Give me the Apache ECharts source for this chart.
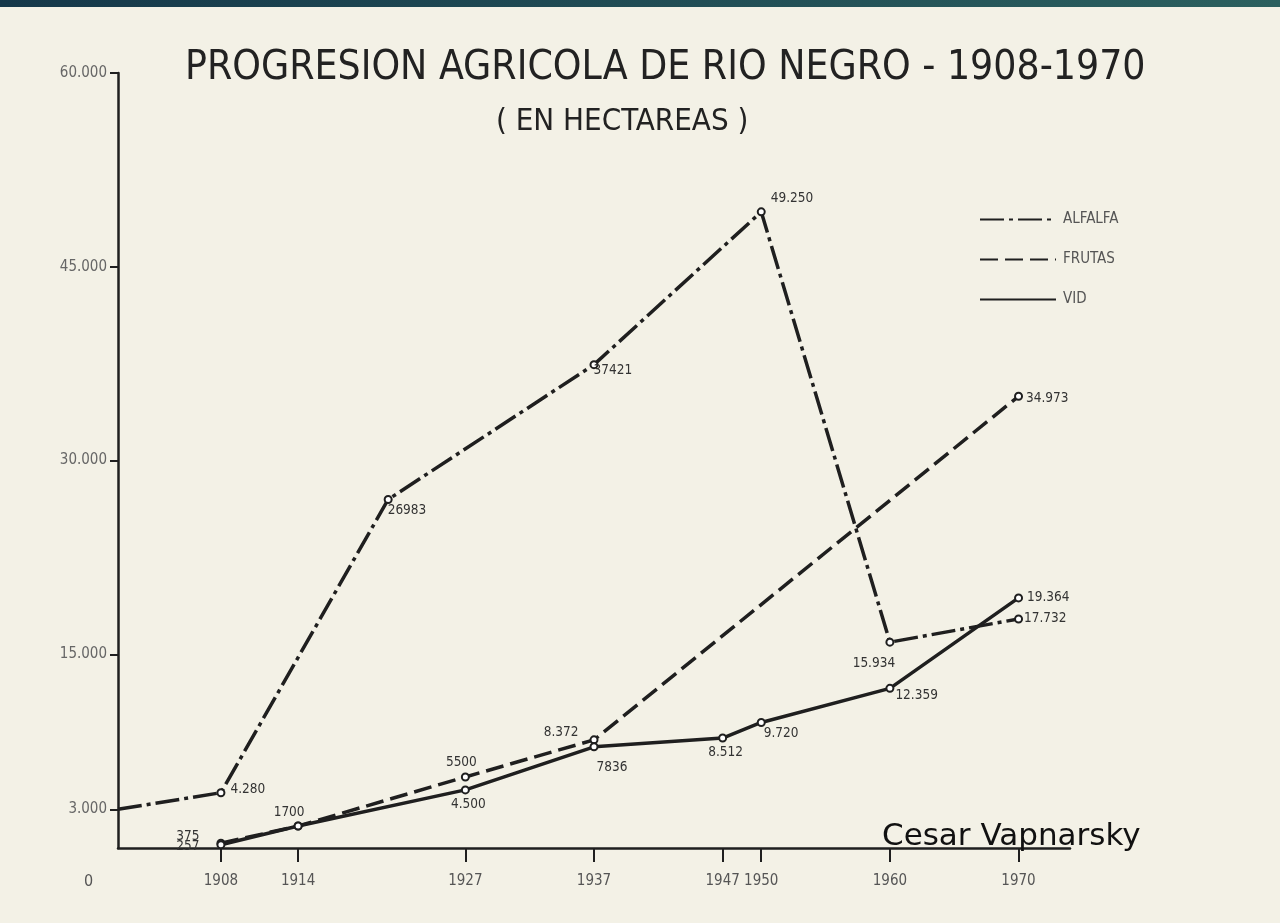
<!DOCTYPE html>
<html>
<head>
<meta charset="utf-8">
<script src="https://cdn.jsdelivr.net/npm/echarts@6/dist/echarts.min.js"></script>
<style>
  html, body { margin: 0; padding: 0; background: #f3f1e6; }
  #topbar { position: absolute; left: 0; top: 0; width: 1280px; height: 7px;
    background: linear-gradient(90deg, #15384a, #2b605f); }
  #chart { width: 1280px; height: 923px; }
</style>
</head>
<body>
<div id="chart"></div>
<div id="topbar"></div>
<script>
// ---- data ----
const alfalfaYears  = [1900, 1908, 1921, 1937, 1950, 1960, 1970];
const alfalfaValues = [3000, 4280, 26983, 37421, 49250, 15934, 17732];
const alfalfaLabels = ['', '4.280', '26983', '37421', '49.250', '15.934', '17.732'];

const frutasYears  = [1908, 1914, 1927, 1937, 1970];
const frutasValues = [375, 1700, 5500, 8372, 34973];
const frutasLabels = ['375', '1700', '5500', '8.372', '34.973'];

const vidYears  = [1908, 1914, 1927, 1937, 1947, 1950, 1960, 1970];
const vidValues = [257, 1700, 4500, 7836, 8512, 9720, 12359, 19364];
const vidLabels = ['257', '', '4.500', '7836', '8.512', '9.720', '12.359', '19.364'];

const xTickValues = [1908, 1914, 1927, 1937, 1947, 1950, 1960, 1970];
const yTickValues = [3000, 15000, 30000, 45000, 60000];
const yTickLabels = ['3.000', '15.000', '30.000', '45.000', '60.000'];

// ---- styling ----
const NARROW = "'Liberation Sans Narrow', 'DejaVu Sans Condensed', sans-serif";
const INK = '#1f1f1f';

const alfalfaPlace = [null, ['right', [0, -3]], ['right', [-10, 11]], ['right', [-10, 6]],
  ['right', [0, -13]], ['bottom', [-16, 5]], ['right', [-4, 0]]];
const frutasPlace = [['left', [-12, -7]], ['top', [-9, 3]], ['top', [-4, 2]],
  ['left', [-6, -7]], ['right', [-2, 2]]];
const vidPlace = [['left', [-12, 2]], null, ['bottom', [3, -2]], ['bottom', [18, 4]],
  ['bottom', [3, -2]], ['right', [-7, 11]], ['right', [-4, 7]], ['right', [-1, 0]]];

function buildData(years, values, labels, places, noSymbolFirst) {
  return years.map((yr, i) => {
    const item = { value: [yr, values[i]] };
    const p = places[i];
    if (p && labels[i]) {
      item.label = { show: true, position: p[0], offset: p[1], formatter: labels[i] };
    } else {
      item.label = { show: false };
    }
    if (noSymbolFirst && i === 0) item.symbol = 'none';
    return item;
  });
}

const labelBase = { show: false, color: '#333', fontSize: 13.5, fontFamily: NARROW, distance: 5 };

function makeSeries(name, data, dash) {
  return {
    name, type: 'line', data,
    symbol: 'emptyCircle', symbolSize: 7,
    itemStyle: { color: INK, borderWidth: 1.5 },
    lineStyle: { color: INK, width: 3.5, type: dash },
    label: labelBase,
    emphasis: { disabled: true },
    z: 3
  };
}

const chart = echarts.init(document.getElementById('chart'));
chart.setOption({
  backgroundColor: '#f3f1e6',
  animation: false,
  title: [
    { text: 'PROGRESION AGRICOLA DE RIO NEGRO - 1908-1970', left: 180, top: 43,
      textStyle: { fontFamily: NARROW, fontSize: 40.5, fontWeight: 'normal', color: '#222' } },
    { text: '( EN HECTAREAS )', left: 491, top: 101,
      textStyle: { fontFamily: NARROW, fontSize: 31, fontWeight: 'normal', color: '#222' } },
    { text: 'Cesar Vapnarsky', left: 877, top: 816,
      textStyle: { fontFamily: "'DejaVu Sans', sans-serif", fontSize: 31, fontWeight: 'normal', color: '#111' } }
  ],
  legend: {
    orient: 'vertical', left: 974, top: 207,
    itemWidth: 76, itemHeight: 14, itemGap: 25,
    itemStyle: { opacity: 0 },
    textStyle: { fontFamily: NARROW, fontSize: 15, color: '#555', padding: [0, 0, 0, 2] },
    data: ['ALFALFA', 'FRUTAS', 'VID']
  },
  grid: { left: 118, right: 210, top: 73, bottom: 75, containLabel: false },
  xAxis: {
    type: 'value', min: 1900, max: 1974,
    axisLine: { show: true, lineStyle: { color: INK, width: 2.5 } },
    axisTick: { show: true, inside: false, length: 14, lineStyle: { color: INK, width: 2 },
      customValues: xTickValues },
    axisLabel: { show: true, customValues: xTickValues, margin: 26,
      fontFamily: NARROW, fontSize: 15, color: '#555', formatter: v => String(v) },
    splitLine: { show: false }
  },
  yAxis: {
    type: 'value', min: 0, max: 60000,
    axisLine: { show: true, lineStyle: { color: INK, width: 2.5 } },
    axisTick: { show: true, length: 8, lineStyle: { color: INK, width: 2 },
      customValues: yTickValues },
    axisLabel: { show: true, customValues: yTickValues, margin: 11,
      fontFamily: NARROW, fontSize: 15, color: '#666',
      formatter: v => yTickLabels[yTickValues.indexOf(v)] },
    splitLine: { show: false }
  },
  graphic: [
    { type: 'text', left: 84, top: 874,
      style: { text: '0', fontFamily: NARROW, fontSize: 16, fill: '#555' } }
  ],
  series: [
    makeSeries('ALFALFA', buildData(alfalfaYears, alfalfaValues, alfalfaLabels, alfalfaPlace, true), [24, 5, 4, 5]),
    makeSeries('FRUTAS', buildData(frutasYears, frutasValues, frutasLabels, frutasPlace, false), [18, 7]),
    makeSeries('VID', buildData(vidYears, vidValues, vidLabels, vidPlace, false), 'solid')
  ]
});
</script>
</body>
</html>
